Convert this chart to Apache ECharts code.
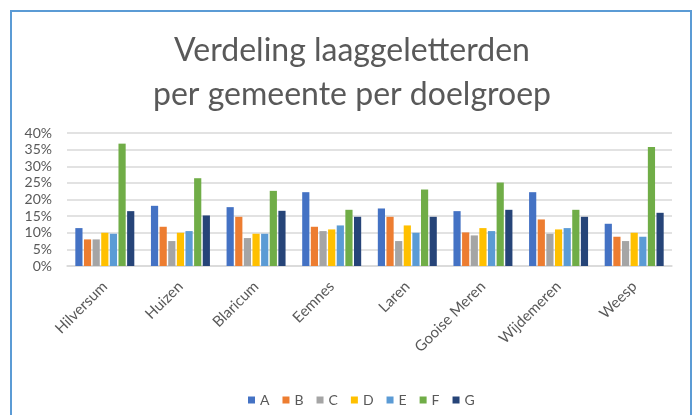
<!DOCTYPE html>
<html>
<head>
<meta charset="utf-8">
<script src="https://cdn.jsdelivr.net/npm/echarts@6/dist/echarts.min.js"></script>
<style>
  html, body { margin: 0; padding: 0; background: #fff; }
  #chart { width: 692px; height: 415px; }
</style>
</head>
<body>
<div id="chart"></div>
<script>
const gemeenten = ["Hilversum", "Huizen", "Blaricum", "Eemnes", "Laren", "Gooise Meren", "Wijdemeren", "Weesp"];
const groepen = ["A", "B", "C", "D", "E", "F", "G"];
const kleuren = ["#4472c4", "#ed7d31", "#a5a5a5", "#ffc000", "#5b9bd5", "#70ad47", "#264478"];

// aandeel per doelgroep, per gemeente (in dezelfde volgorde als gemeenten)
const A = [0.114, 0.181, 0.177, 0.222, 0.173, 0.165, 0.222, 0.127];
const B = [0.080, 0.118, 0.148, 0.118, 0.148, 0.101, 0.140, 0.088];
const C = [0.080, 0.075, 0.084, 0.105, 0.075, 0.092, 0.097, 0.075];
const D = [0.100, 0.100, 0.097, 0.110, 0.122, 0.114, 0.110, 0.100];
const E = [0.097, 0.105, 0.097, 0.122, 0.100, 0.105, 0.114, 0.088];
const F = [0.368, 0.264, 0.226, 0.169, 0.230, 0.251, 0.169, 0.358];
const G = [0.165, 0.152, 0.166, 0.148, 0.148, 0.169, 0.148, 0.160];
const waarden = [A, B, C, D, E, F, G];

const grijs = "#595959";
const font = "Lato, 'Noto Sans', sans-serif";

const chart = echarts.init(document.getElementById("chart"));
chart.setOption({
  backgroundColor: "#fff",
  animation: false,
  textStyle: { fontFamily: font, color: grijs },
  title: {
    text: "Verdeling laaggeletterden\nper gemeente per doelgroep",
    left: 347,
    top: 24,
    textAlign: "center",
    textStyle: { fontFamily: font, fontSize: 32, fontWeight: "normal", color: grijs, lineHeight: 44 },
  },
  graphic: [
    {
      type: "rect",
      shape: { x: 11, y: 11, width: 680, height: 420 },
      style: { fill: "none", stroke: "#5b9bd5", lineWidth: 2 },
    },
  ],
  legend: {
    top: 388,
    left: 243,
    icon: "rect",
    itemWidth: 7,
    itemHeight: 7,
    itemGap: 13,
    textStyle: { fontFamily: font, fontSize: 14, color: grijs },
    data: groepen,
  },
  grid: { left: 67, right: 20, top: 133, bottom: 149 },
  xAxis: {
    type: "category",
    data: gemeenten,
    axisLine: { lineStyle: { color: "#d9d9d9", width: 1.5 } },
    axisTick: { show: false },
    axisLabel: { rotate: 45, margin: 18, fontSize: 15, color: grijs, fontFamily: font },
  },
  yAxis: {
    type: "value",
    min: 0,
    max: 0.4,
    interval: 0.05,
    axisLine: { show: false },
    axisTick: { show: false },
    splitLine: { lineStyle: { color: "#d9d9d9", width: 1.5 } },
    axisLabel: {
      margin: 15,
      fontSize: 14,
      color: grijs,
      fontFamily: font,
      formatter: (v) => Math.round(v * 100) + "%",
    },
  },
  series: groepen.map((g, i) => ({
    name: g,
    type: "bar",
    data: waarden[i],
    barGap: "20%",
    barCategoryGap: "22%",
    itemStyle: { color: kleuren[i] },
  })),
});
</script>
</body>
</html>
